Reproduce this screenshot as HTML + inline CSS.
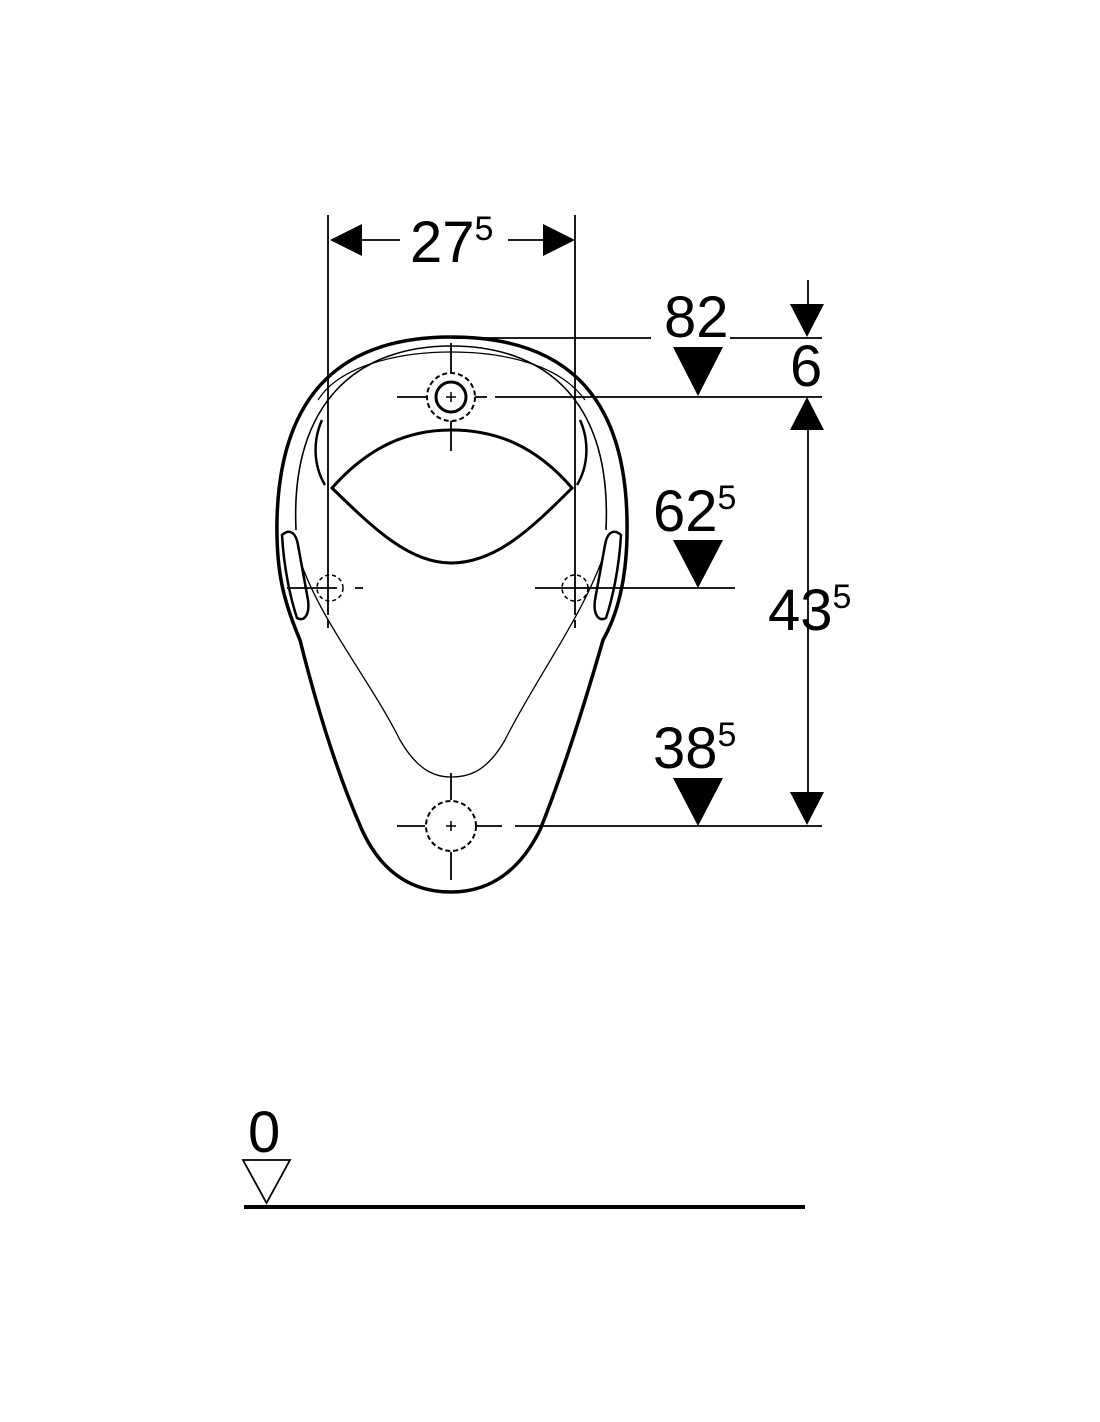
<!DOCTYPE html>
<html><head><style>body{margin:0;background:#fff}svg{display:block}</style></head>
<body>
<svg width="1100" height="1422" viewBox="0 0 1100 1422" xmlns="http://www.w3.org/2000/svg" font-family="Liberation Sans, sans-serif">
<g fill="none" stroke="#000">
<!-- outer body -->
<path d="M451 337 C 560 337 625 390 627 520 C 628 570 620 610 603 640 C 580 720 560 780 540 830 C 515 880 480 892 451 892 C 420 892 385 880 362 830 C 340 780 320 720 300 640 C 283 600 276 570 277 520 C 280 390 345 337 451 337 Z" stroke-width="3.5"/>
<!-- inner rim -->
<path d="M296 530 C 290 400 360 346 451 346 C 545 346 612 400 606 530" stroke-width="1.6"/>
<path d="M318 400 C 340 365 400 352 451 352 C 505 352 560 365 585 400" stroke-width="1.2"/>
<path d="M322 420 C 313 440 313 465 325 485" stroke-width="2.5"/>
<path d="M580 420 C 589 440 589 465 577 485" stroke-width="2.5"/>
<!-- thin inner bowl -->
<path d="M300 560 C 320 620 370 680 400 740 C 420 775 440 777 451 777 C 465 777 485 775 505 740 C 535 680 580 620 602 560" stroke-width="1.3"/>
<!-- spreader opening -->
<path d="M332 488 C 370 445 410 430 451 430 C 495 430 535 445 572 488 C 530 530 495 563 451 563 C 410 563 375 530 332 488 Z" stroke-width="3"/>
<!-- side slots -->
<path d="M282 535 C 290 528 296 533 298 545 L 308 600 C 310 615 304 622 297 618 C 291 600 284 570 282 535 Z" stroke-width="2.5"/>
<path d="M621 535 C 613 528 607 533 605 545 L 595 600 C 593 615 599 622 606 618 C 612 600 619 570 621 535 Z" stroke-width="2.5"/>
<!-- top inlet -->
<circle cx="451" cy="397" r="15" stroke-width="3"/>
<circle cx="451" cy="397" r="24" stroke-width="2" stroke-dasharray="5 3"/>
<path d="M446 397h10M451 392v10" stroke-width="1.5"/>
<path d="M397 397h30M475 397h12M495 397h327M451 343v30M451 421v30" stroke-width="1.8"/>
<!-- side holes -->
<circle cx="330" cy="588" r="13" stroke-width="1.5" stroke-dasharray="4 3"/>
<circle cx="575" cy="588" r="13" stroke-width="1.5" stroke-dasharray="4 3"/>
<path d="M287 588h50M355 588h8M535 588h200" stroke-width="1.8"/>
<!-- bottom outlet -->
<circle cx="451" cy="826" r="25" stroke-width="2" stroke-dasharray="5 3"/>
<path d="M446 826h10M451 821v10" stroke-width="1.5"/>
<path d="M397 826h28M477 826h25M515 826h307M451 773v27M451 852v28" stroke-width="1.8"/>
<!-- extension lines -->
<path d="M328 215v400M575 215v400M328 620v8M575 620v8" stroke-width="1.8"/>
<path d="M360 240h40M508 240h35" stroke-width="1.8"/>
<path d="M451 338h200M730 338h92" stroke-width="1.8"/>
<path d="M808 280v30M808 430v365" stroke-width="1.8"/>
<!-- ground -->
<path d="M244 1207h561" stroke-width="4"/>
<path d="M243 1160h47l-23.5 43z" stroke-width="1.8"/>
</g>
<g fill="#000">
<path d="M330 240l32-16v32z"/><path d="M575 240l-32-16v32z"/>
<path d="M790 304h34l-17 33z"/>
<path d="M790 430h34l-17-33z"/>
<path d="M790 792h34l-17 33z"/>
<path d="M673 347h50l-25 49z"/>
<path d="M673 540h50l-25 48z"/>
<path d="M673 778h50l-25 48z"/>
</g>
<g font-size="58" fill="#000">
<text x="410" y="262">27<tspan font-size="34" dy="-22">5</tspan></text>
<text x="664" y="337">82</text>
<text x="790" y="386">6</text>
<text x="653" y="531">62<tspan font-size="34" dy="-22">5</tspan></text>
<text x="768" y="630">43<tspan font-size="34" dy="-22">5</tspan></text>
<text x="653" y="768">38<tspan font-size="34" dy="-22">5</tspan></text>
<text x="248" y="1152">0</text>
</g>
</svg>
</body></html>
